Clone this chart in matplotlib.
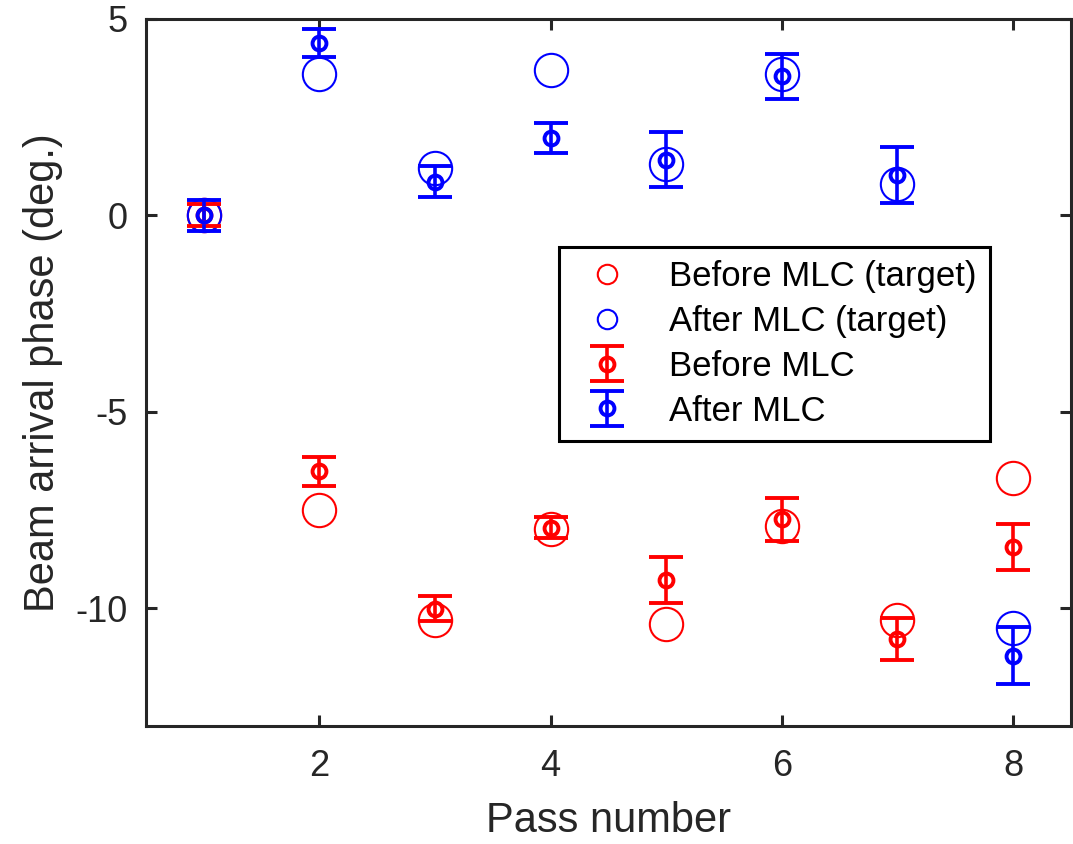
import matplotlib.pyplot as plt
from matplotlib.lines import Line2D
import numpy as np

plt.rcParams['font.family'] = ['Liberation Sans', 'DejaVu Sans']
plt.rcParams['axes.unicode_minus'] = False

# pass numbers
passes = np.arange(1, 9)

# target phases (deg.)
before_target = [0, -7.5, -10.3, -8.0, -10.4, -7.9, -10.3, -6.7]
after_target = [0, 3.6, 1.2, 3.7, 1.3, 3.6, 0.8, -10.5]

# measured phases with error (deg.)
before_meas = [0, -6.52, -10.02, -7.95, -9.28, -7.74, -10.79, -8.45]
before_err = [0.28, 0.37, 0.32, 0.26, 0.58, 0.55, 0.53, 0.58]
after_meas = [0, 4.38, 0.86, 1.97, 1.41, 3.54, 1.02, -11.21]
after_err = [0.40, 0.36, 0.40, 0.37, 0.70, 0.58, 0.71, 0.73]

dark = '#262626'

fig = plt.figure(figsize=(10.73, 8.44), dpi=100)
ax = fig.add_axes([0.136, 0.140, 0.862, 0.8375])

ax.plot(passes, before_target, 'o', color='red', mfc='none', ms=24, mew=1.5)
ax.plot(passes, after_target, 'o', color='blue', mfc='none', ms=24, mew=1.5)

eb_before = ax.errorbar(passes, before_meas, yerr=before_err, fmt='o', color='red',
                        mfc='none', ms=10, mew=2.8, elinewidth=2.6, capsize=12, capthick=2.6)
eb_after = ax.errorbar(passes, after_meas, yerr=after_err, fmt='o', color='blue',
                       mfc='none', ms=10, mew=2.8, elinewidth=2.6, capsize=12, capthick=2.6)

ax.set_xlim(0.5, 8.5)
ax.set_ylim(-13, 5)
ax.set_xticks([2, 4, 6, 8])
ax.set_yticks([-10, -5, 0, 5])

for side in ax.spines.values():
    side.set_linewidth(2.2)
    side.set_color(dark)
ax.tick_params(direction='in', length=8, width=2.2, color=dark, labelcolor=dark,
               labelsize=26, top=True, right=True)
ax.tick_params(axis='x', pad=17)
ax.tick_params(axis='y', pad=13)

ax.set_xlabel('Pass number', fontsize=30, color=dark, labelpad=12)
ax.set_ylabel('Beam arrival phase (deg.)', fontsize=30, color=dark, labelpad=9)

# smaller circles in the key for the targets
h1 = Line2D([], [], ls='none', marker='o', color='red', mfc='none', ms=14, mew=1.5)
h2 = Line2D([], [], ls='none', marker='o', color='blue', mfc='none', ms=14, mew=1.5)
leg = ax.legend([h1, h2, eb_before, eb_after],
                ['Before MLC (target)', 'After MLC (target)', 'Before MLC', 'After MLC'],
                loc='upper left', bbox_to_anchor=(0.4465, 0.6775), fontsize=25,
                fancybox=False, framealpha=1, edgecolor='black', borderaxespad=0,
                handlelength=2.0, handletextpad=0.8, labelspacing=0.34, borderpad=0.38)
leg.get_frame().set_linewidth(2.2)

fig.savefig('out.png', dpi=100)
